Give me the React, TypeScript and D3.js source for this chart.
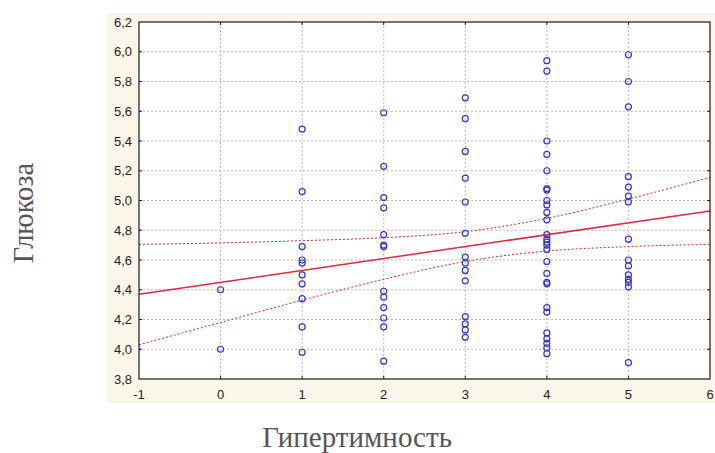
import React, { useRef, useEffect } from "react";
import * as d3 from "d3";

// Glucose readings grouped by hyperthymia score
const score0 = [4.4, 4.0];
const score1 = [5.48, 5.06, 4.69, 4.6, 4.58, 4.5, 4.44, 4.34, 4.15, 3.98];
const score2 = [5.59, 5.23, 5.02, 4.95, 4.77, 4.7, 4.69, 4.39, 4.35, 4.28, 4.21, 4.15, 3.92];
const score3 = [5.69, 5.55, 5.33, 5.15, 4.99, 4.78, 4.62, 4.58, 4.53, 4.46, 4.22, 4.17, 4.13, 4.08];
const score4 = [
  5.94, 5.87, 5.4, 5.31, 5.2, 5.08, 5.07, 5.0, 4.97, 4.92, 4.87, 4.77, 4.74, 4.72, 4.7, 4.67,
  4.59, 4.51, 4.45, 4.44, 4.28, 4.25, 4.11, 4.07, 4.04, 4.01, 3.97,
];
const score5 = [5.98, 5.8, 5.63, 5.16, 5.09, 5.03, 4.99, 4.74, 4.6, 4.56, 4.5, 4.47, 4.45, 4.42, 3.91];
const groups = [
  { score: 0, values: score0 },
  { score: 1, values: score1 },
  { score: 2, values: score2 },
  { score: 3, values: score3 },
  { score: 4, values: score4 },
  { score: 5, values: score5 },
];

// regression line and 95% band
const bandX = [-1, 0, 1, 2, 3, 4, 5, 6];
const fitEnds = [4.37, 4.93];
const upperBand = [4.705, 4.715, 4.73, 4.75, 4.79, 4.88, 5.01, 5.155];
const lowerBand = [4.03, 4.18, 4.33, 4.47, 4.59, 4.66, 4.69, 4.705];

const xTicks = [-1, 0, 1, 2, 3, 4, 5, 6];
const yTicks = [3.8, 4.0, 4.2, 4.4, 4.6, 4.8, 5.0, 5.2, 5.4, 5.6, 5.8, 6.0, 6.2];

const W = 715;
const H = 453;
const plot = { left: 139, right: 710, top: 22, bottom: 379 };

const App = () => {
  const svgRef = useRef<SVGSVGElement>(null);

  useEffect(() => {
    const svg = d3.select(svgRef.current);
    svg.selectAll("*").remove();

    const x = d3.scaleLinear().domain([-1, 6]).range([plot.left, plot.right]);
    const y = d3.scaleLinear().domain([3.8, 6.2]).range([plot.bottom, plot.top]);

    // beige panel behind the plot
    svg
      .append("rect")
      .attr("x", 107)
      .attr("y", 13)
      .attr("width", W - 107)
      .attr("height", 390)
      .attr("fill", "#fbf6ea");

    svg
      .append("rect")
      .attr("x", plot.left)
      .attr("y", plot.top)
      .attr("width", plot.right - plot.left)
      .attr("height", plot.bottom - plot.top)
      .attr("fill", "#ffffff");

    // grid
    svg
      .selectAll(".vgrid")
      .data(xTicks.slice(1, -1))
      .join("line")
      .attr("x1", (d) => x(d))
      .attr("x2", (d) => x(d))
      .attr("y1", plot.top)
      .attr("y2", plot.bottom)
      .attr("stroke", "#b8b8c0")
      .attr("stroke-width", 1)
      .attr("stroke-dasharray", "2,2");

    svg
      .selectAll(".hgrid")
      .data(yTicks.slice(1, -1))
      .join("line")
      .attr("x1", plot.left)
      .attr("x2", plot.right)
      .attr("y1", (d) => y(d))
      .attr("y2", (d) => y(d))
      .attr("stroke", "#b8b8c0")
      .attr("stroke-width", 1)
      .attr("stroke-dasharray", "2,2");

    // confidence band
    const band = d3
      .line<number>()
      .x((_, i) => x(bandX[i]))
      .y((d) => y(d))
      .curve(d3.curveMonotoneX);

    [upperBand, lowerBand].forEach((b) => {
      svg
        .append("path")
        .attr("d", band(b))
        .attr("fill", "none")
        .attr("stroke", "#d82838")
        .attr("stroke-width", 1)
        .attr("stroke-dasharray", "2,2");
    });

    // fitted line
    svg
      .append("line")
      .attr("x1", x(-1))
      .attr("x2", x(6))
      .attr("y1", y(fitEnds[0]))
      .attr("y2", y(fitEnds[1]))
      .attr("stroke", "#e02840")
      .attr("stroke-width", 1.5);

    // points
    const pts = groups.flatMap((g) => g.values.map((v) => ({ score: g.score, v })));
    svg
      .selectAll(".pt")
      .data(pts)
      .join("circle")
      .attr("cx", (d) => x(d.score))
      .attr("cy", (d) => y(d.v))
      .attr("r", 3)
      .attr("fill", "none")
      .attr("stroke", "#3535c8")
      .attr("stroke-width", 1.2);

    // frame
    svg
      .append("rect")
      .attr("x", plot.left)
      .attr("y", plot.top)
      .attr("width", plot.right - plot.left)
      .attr("height", plot.bottom - plot.top)
      .attr("fill", "none")
      .attr("stroke", "#1a1a1a")
      .attr("stroke-width", 1.2);

    // inward ticks on all four sides
    xTicks.slice(1, -1).forEach((t) => {
      svg.append("line").attr("x1", x(t)).attr("x2", x(t)).attr("y1", plot.bottom).attr("y2", plot.bottom - 3).attr("stroke", "#1a1a1a");
      svg.append("line").attr("x1", x(t)).attr("x2", x(t)).attr("y1", plot.top).attr("y2", plot.top + 3).attr("stroke", "#1a1a1a");
    });
    yTicks.slice(1, -1).forEach((t) => {
      svg.append("line").attr("x1", plot.left).attr("x2", plot.left + 3).attr("y1", y(t)).attr("y2", y(t)).attr("stroke", "#1a1a1a");
      svg.append("line").attr("x1", plot.right).attr("x2", plot.right - 3).attr("y1", y(t)).attr("y2", y(t)).attr("stroke", "#1a1a1a");
    });

    // tick labels
    svg
      .selectAll(".ylab")
      .data(yTicks)
      .join("text")
      .attr("x", plot.left - 7)
      .attr("y", (d) => y(d))
      .attr("dy", "0.35em")
      .attr("text-anchor", "end")
      .attr("font-family", "Liberation Sans, Arial, sans-serif")
      .attr("font-size", 13)
      .attr("fill", "#222")
      .text((d) => d.toFixed(1).replace(".", ","));

    svg
      .selectAll(".xlab")
      .data(xTicks)
      .join("text")
      .attr("x", (d) => x(d))
      .attr("y", plot.bottom + 20)
      .attr("text-anchor", "middle")
      .attr("font-family", "Liberation Sans, Arial, sans-serif")
      .attr("font-size", 13)
      .attr("fill", "#222")
      .text((d) => String(d));

    // axis titles
    svg
      .append("text")
      .attr("transform", `translate(33,213) rotate(-90)`)
      .attr("text-anchor", "middle")
      .attr("font-family", "Liberation Serif, Times New Roman, serif")
      .attr("font-size", 28.5)
      .attr("fill", "#555")
      .text("Глюкоза");

    svg
      .append("text")
      .attr("x", 357)
      .attr("y", 447)
      .attr("text-anchor", "middle")
      .attr("font-family", "Liberation Serif, Times New Roman, serif")
      .attr("font-size", 29)
      .attr("fill", "#555")
      .text("Гипертимность");
  }, []);

  return (
    <svg
      ref={svgRef}
      width={W}
      height={H}
      style={{ position: "absolute", left: 0, top: 0, background: "#fff" }}
    />
  );
};

export default App;
